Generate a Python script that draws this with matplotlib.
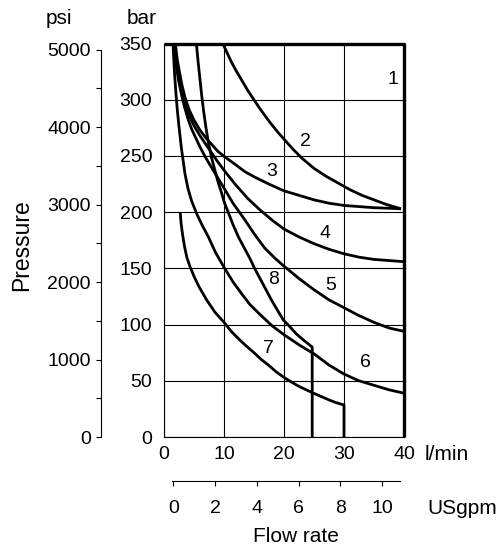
import numpy as np
import matplotlib
matplotlib.use("Agg")
import matplotlib.pyplot as plt
from matplotlib.ticker import MultipleLocator

plt.rcParams['font.family'] = ['Liberation Sans', 'DejaVu Sans']

# ---------- DATA (flow l/min, pressure bar) ----------
q1 = [0, 40, 40]
p1 = [350, 350, 0]

q2 = [9.8, 10.5, 11.2, 12, 13, 14, 15, 16, 17.5, 19, 20, 21.5, 23, 25, 27, 29,
      31, 33, 35, 37, 39.5]
p2 = [350, 342, 334, 326, 317, 308, 300, 292, 281, 271, 265, 256, 248, 239,
      232, 226, 220, 215, 211, 207, 203]

q3 = [1.9, 2.2, 2.6, 3.0, 3.5, 4.2, 5, 6, 7, 8, 9, 10.2, 12, 13.5, 15.2, 17.5,
      20, 22.5, 25, 27.5, 30, 32.5, 35, 37.5, 39.5]
p3 = [350, 336, 324, 313, 302, 291, 282, 273, 266, 260, 254, 249, 242, 236,
      231, 225, 219, 215, 211, 208, 206, 205, 204, 203.5, 203]

q4 = [1.7, 2.0, 2.5, 3.0, 3.5, 4.2, 5, 6, 7.4, 8.8, 10.2, 12, 14, 16, 18, 20,
      22.5, 25, 27.5, 30, 32.5, 35, 37.5, 40]
p4 = [350, 335, 318, 306, 296, 286, 277, 268, 257, 246, 236, 224, 212, 202,
      193, 185, 178, 172, 167, 163, 160, 158, 157, 156]

q5 = [1.6, 2.0, 2.4, 2.9, 3.4, 4.0, 4.6, 5.3, 6, 7, 7.9, 8.8, 9.6, 11.5, 13.5,
      15, 16.8, 18.5, 20, 22.5, 25, 27.5, 30, 32.5, 35, 37.5, 40]
p5 = [350, 332, 318, 305, 294, 283, 274, 266, 258, 248, 240, 232, 225, 208,
      193, 181, 168, 159, 152, 141, 131, 122, 115, 108, 102, 97, 94]

q6 = [1.5, 1.65, 1.8, 2.0, 2.2, 2.5, 2.9, 3.5, 4.0, 4.6, 5.5, 6.4, 7.4, 8.6,
      9.9, 11.5, 13, 14.3, 16, 18, 20, 22.5, 25, 27.5, 30, 32.5, 35, 37.5, 40]
p6 = [350, 334, 320, 305, 292, 276, 257, 234, 221, 210, 198, 188, 178, 164,
      152, 138, 127, 118, 109, 99, 91, 82, 74, 64, 56, 50, 46, 42, 39]

q7 = [2.7, 2.85, 3.1, 3.4, 3.8, 4.3, 5, 5.8, 7.1, 8.5, 10, 11.2, 12.5, 13.7,
      15, 16.2, 17.4, 18.7, 20, 21.2, 22.5, 23.7, 25, 26.2, 27.5, 28.7, 30, 30]
p7 = [200, 190, 180, 170, 160, 152, 143, 134, 122, 111, 102, 94, 87, 81, 75,
      69, 64, 58, 53, 49, 45, 42, 38.8, 36, 33, 30.5, 28.5, 0]

q8 = [5.4, 5.7, 6.0, 6.3, 6.6, 7.0, 7.4, 7.9, 8.5, 9.0, 9.6, 10.1, 10.7, 11.5,
      12.4, 13.3, 14.3, 15.1, 16, 17, 18, 19, 19.9, 21, 22, 23.3, 24.7, 24.7]
p8 = [350, 333, 318, 303, 290, 275, 262, 249, 237, 227, 217, 208, 200, 189,
      178, 169, 159, 150, 141, 131, 121, 112, 104, 98, 92, 86, 80, 0]

curves = [(q1, p1), (q2, p2), (q3, p3), (q4, p4),
          (q5, p5), (q6, p6), (q7, p7), (q8, p8)]

label_names = ["1", "2", "3", "4", "5", "6", "7", "8"]
label_q = [38.2, 23.5, 18, 26.8, 27.7, 33.5, 17.4, 18.2]
label_p = [318, 263, 236, 181, 135, 66, 79, 140]

flow_ticks = [0, 10, 20, 30, 40]
bar_ticks = [0, 50, 100, 150, 200, 250, 300, 350]
psi_ticks = [0, 1000, 2000, 3000, 4000, 5000]
gpm_ticks = [0, 2, 4, 6, 8, 10]

BAR2PSI = 14.5038
FS = 14      # numbers
FL = 15      # axis words

# ---------- FIGURE ----------
W, H = 500, 550
fig = plt.figure(figsize=(W / 100, H / 100), dpi=100)


def fx(px):
    return px / W


def fy(py):
    return 1 - py / H


ax = fig.add_axes([fx(164), fy(437), fx(404) - fx(164), fy(43.6) - fy(437)])
ax.set_xlim(0, 40)
ax.set_ylim(0, 350)
ax.set_xticks(flow_ticks)
ax.set_yticks(bar_ticks)
ax.tick_params(axis='x', length=0, labelsize=FS, pad=6.5)
ax.tick_params(axis='y', length=0, labelsize=FS, pad=8.5)
ax.grid(True, color='black', linewidth=0.8)
ax.set_axisbelow(True)
for s in ax.spines.values():
    s.set_linewidth(0.8)

for i, (q, p) in enumerate(curves):
    ax.plot(q, p, color='black', linewidth=2.0 if i else 2.4,
            solid_capstyle='butt', solid_joinstyle='round',
            clip_on=False, zorder=3)

for name, q, p in zip(label_names, label_q, label_p):
    ax.text(q, p, name, fontsize=FS, ha='center', va='center', zorder=4)

# psi scale on the far left
sec = ax.secondary_yaxis(-(164 - 101) / 240,
                         functions=(lambda b: b * BAR2PSI, lambda s: s / BAR2PSI))
sec.set_yticks(psi_ticks)
sec.yaxis.set_minor_locator(MultipleLocator(500))
sec.tick_params(which='both', length=3.3, width=0.8, labelsize=FS, pad=4)
sec.spines['left'].set_bounds(0, 5000)
sec.spines['left'].set_linewidth(0.8)

# USgpm scale below
gx0, gx1 = 172, 400
g0px, g10px = 173.3, 382
per_px = 10 / (g10px - g0px)
axg = fig.add_axes([fx(gx0), fy(481), fx(gx1) - fx(gx0), 0.0001])
axg.set_xlim((gx0 - g0px) * per_px, (gx1 - g0px) * per_px)
axg.set_xticks(gpm_ticks)
axg.set_yticks([])
axg.tick_params(axis='x', length=3.4, width=0.8, labelsize=FS, pad=10.5)
for k in ['top', 'left', 'right']:
    axg.spines[k].set_visible(False)
axg.spines['bottom'].set_linewidth(0.8)
axg.patch.set_alpha(0)

# axis texts
fig.text(fx(59), fy(18), "psi", fontsize=FL, ha='center', va='center')
fig.text(fx(142), fy(18), "bar", fontsize=FL, ha='center', va='center')
fig.text(fx(425), fy(455), "l/min", fontsize=FL, ha='left', va='center')
fig.text(fx(427), fy(508), "USgpm", fontsize=FL, ha='left', va='center')
fig.text(fx(296), fy(537), "Flow rate", fontsize=FL, ha='center', va='center')
fig.text(fx(22), fy(245), "Pressure", fontsize=16.5, ha='center', va='center',
         rotation=90)

fig.savefig("out.png", dpi=100)
